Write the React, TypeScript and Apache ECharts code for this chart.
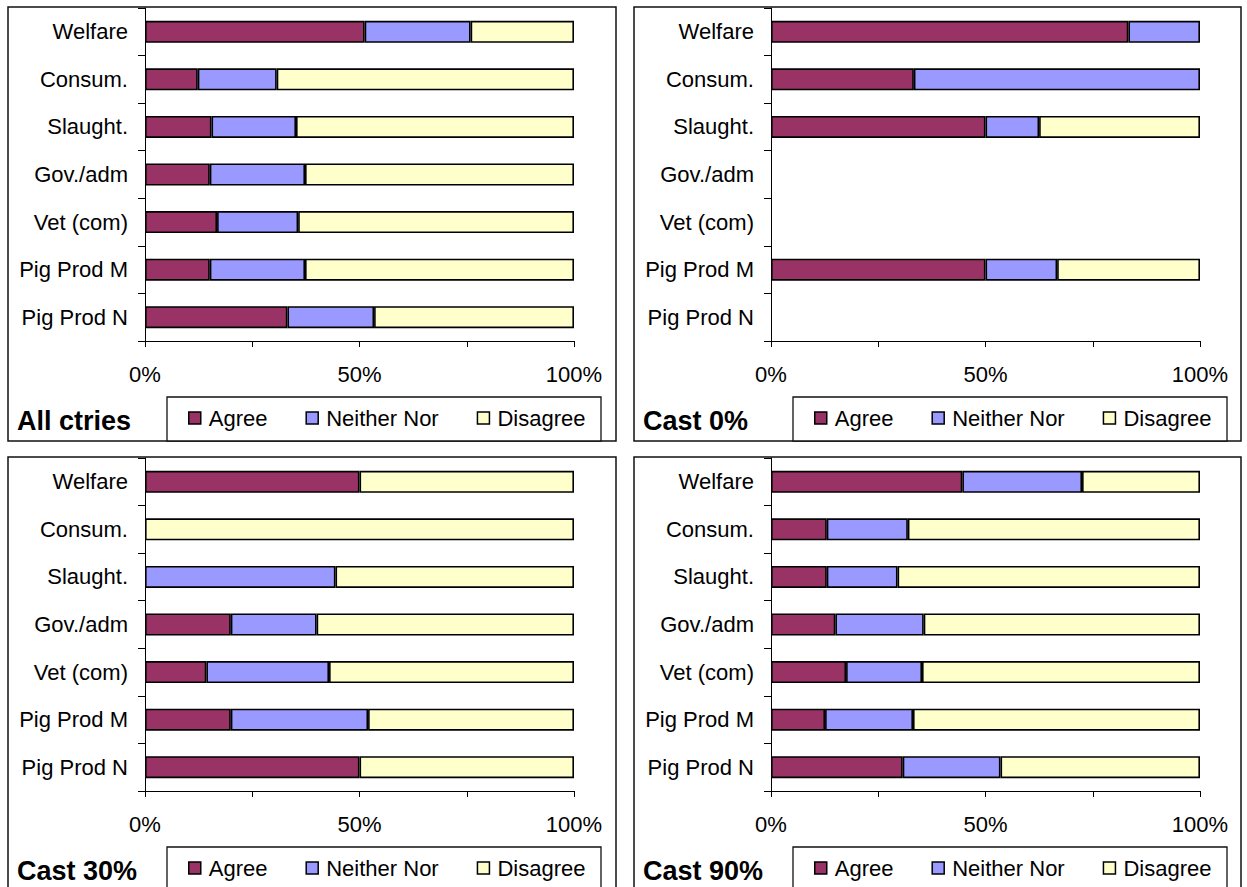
import React, { useEffect, useRef } from 'react';
import * as echarts from 'echarts';

const categories = ['Welfare', 'Consum.', 'Slaught.', 'Gov./adm', 'Vet (com)', 'Pig Prod M', 'Pig Prod N'];
const seriesNames = ['Agree', 'Neither Nor', 'Disagree'];
const seriesColors = ['#993366', '#9999FF', '#FFFFCC'];
const panelTitles = ['All ctries', 'Cast 0%', 'Cast 30%', 'Cast 90%'];

// All countries
const allAgree = [51.2, 12.3, 15.5, 15.1, 16.8, 15.1, 33.2];
const allNeither = [24.7, 18.4, 19.7, 22.2, 18.9, 22.2, 20.2];
const allDisagree = [24.1, 69.3, 64.8, 62.7, 64.3, 62.7, 46.6];

// Castration 0%
const c0Agree = [83.3, 33.3, 50, null, null, 50, null];
const c0Neither = [16.7, 66.7, 12.5, null, null, 16.7, null];
const c0Disagree = [null, null, 37.5, null, null, 33.3, null];

// Castration 30%
const c30Agree = [50, null, null, 20, 14.3, 20, 50];
const c30Neither = [null, null, 44.4, 20, 28.6, 32, null];
const c30Disagree = [50, 100, 55.6, 60, 57.1, 48, 50];

// Castration 90%
const c90Agree = [44.6, 13.0, 13.0, 15.0, 17.5, 12.6, 30.7];
const c90Neither = [27.9, 18.9, 16.5, 20.6, 17.7, 20.5, 22.8];
const c90Disagree = [27.5, 68.1, 70.5, 64.4, 64.8, 66.9, 46.5];

const panelData = [
  [allAgree, allNeither, allDisagree],
  [c0Agree, c0Neither, c0Disagree],
  [c30Agree, c30Neither, c30Disagree],
  [c90Agree, c90Neither, c90Disagree],
];

const FONT = '"Liberation Sans", Arial, Helvetica, sans-serif';

export default function App() {
  const ref = useRef<HTMLDivElement>(null);

  useEffect(() => {
    if (!ref.current) return;
    const chart = echarts.init(ref.current, null, { renderer: 'svg' });

    const panelX = [8, 634];
    const panelY = [7, 457];
    const panelW = [608, 607];
    const panelH = 434;

    const grids: any[] = [];
    const xAxes: any[] = [];
    const yAxes: any[] = [];
    const series: any[] = [];
    const legends: any[] = [];
    const graphics: any[] = [];

    panelData.forEach((sets, i) => {
      const col = i % 2;
      const row = Math.floor(i / 2);
      const px = panelX[col];
      const py = panelY[row];

      graphics.push({
        type: 'rect',
        z: 0,
        shape: { x: px, y: py, width: panelW[col], height: panelH },
        style: { fill: '#fff', stroke: '#111', lineWidth: 1.5 },
        silent: true,
      });
      graphics.push({
        type: 'rect',
        z: 1,
        shape: { x: px + 159, y: py + 390, width: 434, height: 44 },
        style: { fill: '#fff', stroke: '#111', lineWidth: 1.3 },
        silent: true,
      });
      graphics.push({
        type: 'text',
        z: 2,
        x: px + 9,
        y: py + 414,
        style: {
          text: panelTitles[i],
          font: `bold 27px ${FONT}`,
          fill: '#000',
          verticalAlign: 'middle',
          align: 'left',
        },
        silent: true,
      });

      grids.push({
        left: px + 137,
        top: py + 1,
        width: 429,
        height: 333,
        containLabel: false,
      });

      xAxes.push({
        type: 'value',
        gridIndex: i,
        min: 0,
        max: 100,
        interval: 25,
        axisLine: { show: true, lineStyle: { color: '#000', width: 1 } },
        axisTick: { show: true, length: 6, lineStyle: { color: '#000' } },
        splitLine: { show: false },
        axisLabel: {
          show: true,
          margin: 22,
          color: '#000',
          fontSize: 22,
          fontFamily: FONT,
          formatter: (v: number) => (v % 50 === 0 ? `${v}%` : ''),
        },
      });

      yAxes.push({
        type: 'category',
        gridIndex: i,
        data: categories,
        inverse: true,
        boundaryGap: true,
        axisLine: { show: true, lineStyle: { color: '#000', width: 1 } },
        axisTick: { show: true, length: 7, alignWithLabel: false, lineStyle: { color: '#000' } },
        splitLine: { show: false },
        axisLabel: {
          margin: 17,
          color: '#000',
          fontSize: 22,
          fontFamily: FONT,
        },
      });

      sets.forEach((vals, s) => {
        series.push({
          type: 'bar',
          name: seriesNames[s],
          xAxisIndex: i,
          yAxisIndex: i,
          stack: 'panel' + i,
          barWidth: 22,
          data: vals.map((v) => (v == null ? '-' : v)),
          itemStyle: {
            color: seriesColors[s],
            borderColor: '#000',
            borderWidth: 1.6,
          },
          emphasis: { disabled: true },
        });
      });

      legends.push({
        left: px + 180,
        top: py + 400,
        orient: 'horizontal',
        padding: 0,
        itemGap: 38,
        itemWidth: 12,
        itemHeight: 12,
        icon: 'rect',
        selectedMode: false,
        data: seriesNames,
        itemStyle: { borderColor: '#000', borderWidth: 1.5 },
        textStyle: {
          color: '#000',
          fontSize: 22,
          fontFamily: FONT,
          padding: [0, 0, 0, 3],
        },
      });
    });

    chart.setOption({
      animation: false,
      backgroundColor: '#fff',
      textStyle: { fontFamily: FONT },
      grid: grids,
      xAxis: xAxes,
      yAxis: yAxes,
      series,
      legend: legends,
      graphic: { elements: graphics },
    });

    return () => {
      chart.dispose();
    };
  }, []);

  return (
    <div
      ref={ref}
      style={{ position: 'absolute', left: 0, top: 0, width: 1247, height: 887 }}
    />
  );
}
